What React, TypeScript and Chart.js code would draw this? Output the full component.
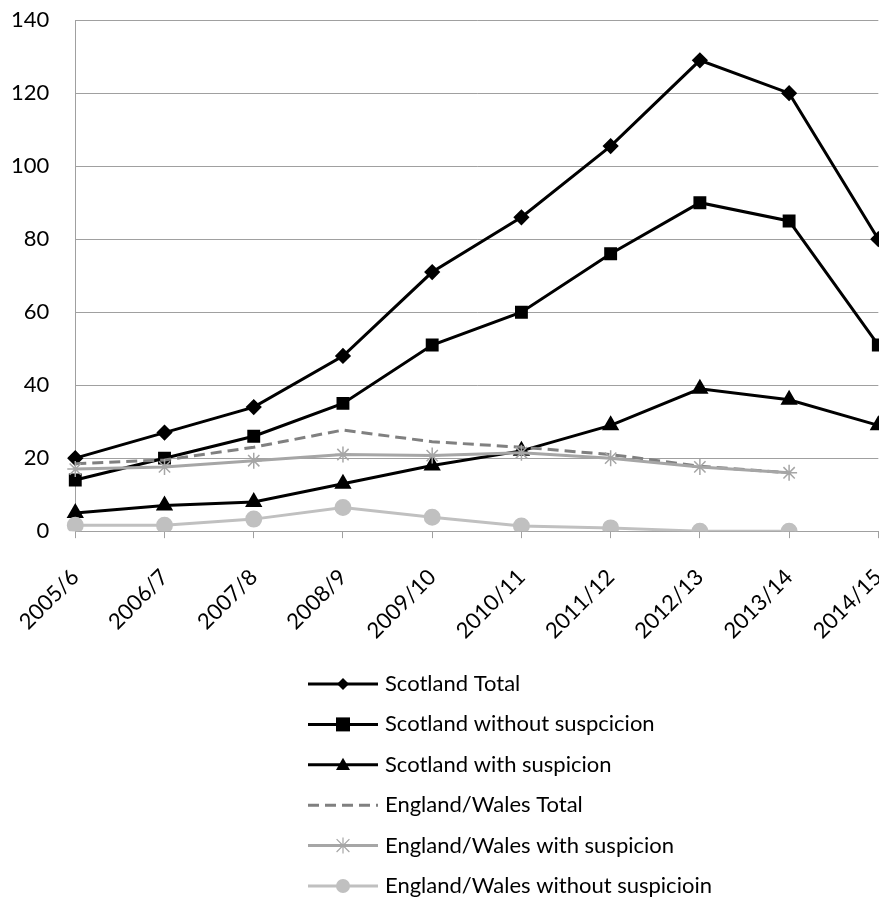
import React, { useEffect, useRef } from "react";
import { Chart, registerables } from "chart.js";

Chart.register(...registerables);

const categories = ["2005/6", "2006/7", "2007/8", "2008/9", "2009/10", "2010/11", "2011/12", "2012/13", "2013/14", "2014/15"];
const scotlandTotal = [20, 27, 34, 48, 71, 86, 105.5, 129, 120, 80];
const scotlandWithout = [14, 20, 26, 35, 51, 60, 76, 90, 85, 51];
const scotlandWith = [5, 7, 8, 13, 18, 22, 29, 39, 36, 29];
const ewTotal = [18.5, 19.5, 23, 27.7, 24.5, 23, 21, 17.8, 16, null];
const ewWith = [17, 17.6, 19.3, 21, 20.7, 21.5, 20, 17.6, 16, null];
const ewWithout = [1.6, 1.6, 3.3, 6.5, 3.8, 1.4, 0.9, 0, 0, null];
const yTicks = [0, 20, 40, 60, 80, 100, 120, 140];

const FONT = "Lato, 'Open Sans', sans-serif";
const FONT_SIZE = 22;
const SHIFT_X = 15;
const SHIFT_Y = 19;

function drawMarker(ctx: CanvasRenderingContext2D, style: string, x: number, y: number, r: number, color: string) {
  ctx.save();
  ctx.fillStyle = color;
  ctx.strokeStyle = color;
  ctx.lineWidth = 1.2;
  ctx.beginPath();
  if (style === "rectRot") {
    ctx.moveTo(x, y - r); ctx.lineTo(x + r, y); ctx.lineTo(x, y + r); ctx.lineTo(x - r, y); ctx.closePath(); ctx.fill();
  } else if (style === "rect") {
    ctx.rect(x - r, y - r, 2 * r, 2 * r); ctx.fill();
  } else if (style === "triangle") {
    ctx.moveTo(x, y - r); ctx.lineTo(x + r, y + r * 0.75); ctx.lineTo(x - r, y + r * 0.75); ctx.closePath(); ctx.fill();
  } else if (style === "star") {
    ctx.moveTo(x, y - r); ctx.lineTo(x, y + r);
    const d = r * 0.8;
    ctx.moveTo(x - d, y - d); ctx.lineTo(x + d, y + d);
    ctx.moveTo(x + d, y - d); ctx.lineTo(x - d, y + d);
    ctx.stroke();
  } else if (style === "circle") {
    ctx.arc(x, y, r, 0, Math.PI * 2); ctx.fill();
  }
  ctx.restore();
}

const legendPlugin = {
  id: "verticalLegend",
  afterDraw(chart: any) {
    const ctx: CanvasRenderingContext2D = chart.ctx;
    const ds = chart.data.datasets;
    ds.forEach((d: any, i: number) => {
      const y = 684 + i * 40.4 + SHIFT_Y;
      const x0 = 308 + SHIFT_X;
      const x1 = 378 + SHIFT_X;
      ctx.save();
      ctx.strokeStyle = d.borderColor;
      ctx.lineWidth = 3;
      ctx.setLineDash(d.borderDash || []);
      ctx.beginPath();
      ctx.moveTo(x0, y);
      ctx.lineTo(x1, y);
      ctx.stroke();
      ctx.restore();
      if (d.pointRadius > 0) {
        drawMarker(ctx, d.pointStyle, (x0 + x1) / 2, y, d.legendRadius, d.pointBackgroundColor);
      }
      ctx.save();
      ctx.fillStyle = "#000";
      ctx.font = `${FONT_SIZE}px ${FONT}`;
      ctx.textBaseline = "middle";
      ctx.textAlign = "left";
      ctx.fillText(d.label, 385 + SHIFT_X, y);
      ctx.restore();
    });
  },
};

export default function App() {
  const ref = useRef<HTMLCanvasElement>(null);
  useEffect(() => {
    if (!ref.current) return;
    const chart = new Chart(ref.current, {
      type: "line",
      data: {
        labels: categories,
        datasets: [
          { label: "Scotland Total", data: scotlandTotal, borderColor: "#000", backgroundColor: "#000", pointBackgroundColor: "#000", pointBorderColor: "#000", borderWidth: 3, pointStyle: "rectRot", pointRadius: 6, legendRadius: 6, order: 5 } as any,
          { label: "Scotland without suspcicion", data: scotlandWithout, borderColor: "#000", backgroundColor: "#000", pointBackgroundColor: "#000", pointBorderColor: "#000", borderWidth: 3, pointStyle: "rect", pointRadius: 7, legendRadius: 7, order: 4 } as any,
          { label: "Scotland with suspicion", data: scotlandWith, borderColor: "#000", backgroundColor: "#000", pointBackgroundColor: "#000", pointBorderColor: "#000", borderWidth: 3, pointStyle: "triangle", pointRadius: 7, legendRadius: 7, order: 3 } as any,
          { label: "England/Wales Total", data: ewTotal, borderColor: "#808080", backgroundColor: "#808080", pointBackgroundColor: "#808080", borderWidth: 3, borderDash: [11, 6], pointRadius: 0, legendRadius: 0, order: 2 } as any,
          { label: "England/Wales with suspicion", data: ewWith, borderColor: "#a6a6a6", backgroundColor: "#a6a6a6", pointBackgroundColor: "#a6a6a6", pointBorderColor: "#a6a6a6", pointBorderWidth: 1.5, borderWidth: 3, pointStyle: "star", pointRadius: 8, legendRadius: 8, order: 1 } as any,
          { label: "England/Wales without suspicioin", data: ewWithout, borderColor: "#c0c0c0", backgroundColor: "#c0c0c0", pointBackgroundColor: "#c0c0c0", pointBorderColor: "#c0c0c0", borderWidth: 3, pointStyle: "circle", pointRadius: 7, legendRadius: 7, order: 0 } as any,
        ],
      },
      options: {
        responsive: false,
        animation: false,
        layout: { padding: { top: 7, bottom: 230, right: 0, left: 0 } },
        plugins: { legend: { display: false }, tooltip: { enabled: false } },
        elements: { line: { tension: 0 } },
        scales: {
          x: {
            offset: false,
            grid: { display: true, drawOnChartArea: false, drawTicks: true, tickLength: 7, color: "#a0a0a0" },
            border: { display: true, color: "#a0a0a0" },
            ticks: { autoSkip: false, minRotation: 45, maxRotation: 45, color: "#000", font: { size: FONT_SIZE, family: FONT }, padding: 26 },
          },
          y: {
            min: 0,
            max: 140,
            afterBuildTicks: (axis: any) => { axis.ticks = yTicks.map((v) => ({ value: v })); },
            grid: { color: "#a0a0a0", drawTicks: false, lineWidth: 1 },
            border: { display: true, color: "#a0a0a0" },
            ticks: { color: "#000", font: { size: FONT_SIZE, family: FONT }, padding: 26 },
          },
        },
      },
      plugins: [legendPlugin],
    });
    return () => chart.destroy();
  }, []);
  return (
    <div style={{ position: "fixed", left: 0, top: 0, width: 879, height: 900, overflow: "hidden", background: "#fff" }}>
      <canvas ref={ref} width={938} height={919} style={{ display: "block", marginLeft: -SHIFT_X, marginTop: -SHIFT_Y }} />
    </div>
  );
}
